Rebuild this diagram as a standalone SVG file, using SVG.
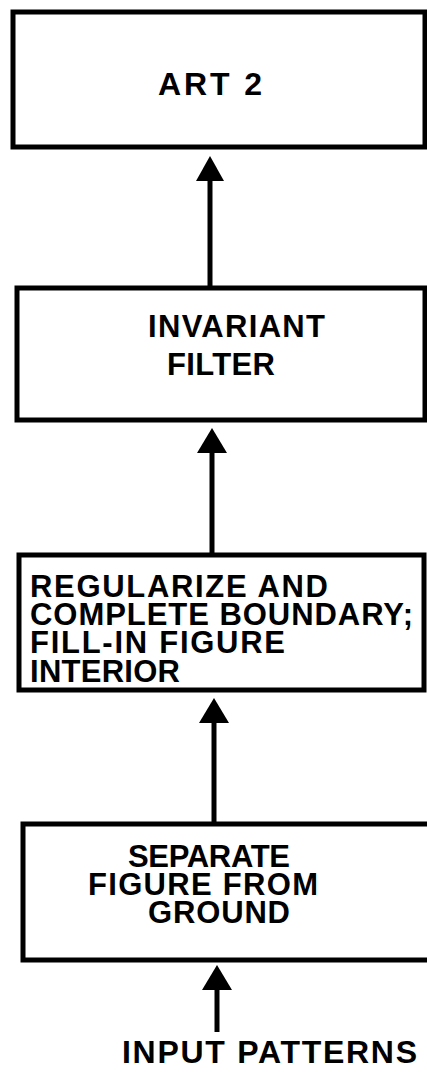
<svg xmlns="http://www.w3.org/2000/svg" width="427" height="1072" viewBox="0 0 427 1072">
  <defs>
    <style>
      .box { fill: #ffffff; stroke: #000000; stroke-width: 5; }
      .lbl { font-family: "Liberation Sans", Arial, Helvetica, sans-serif; font-weight: bold; font-size: 31px; fill: #000000; }
      .big { font-size: 32px; }
      .edge { stroke: #000000; stroke-width: 5; fill: none; }
      .head { fill: #000000; stroke: none; }
    </style>
  </defs>
  <rect width="427" height="1072" fill="#ffffff"/>

  <g id="art2">
    <rect class="box" x="13" y="12" width="412" height="135"/>
    <text class="lbl big" x="158" y="95" textLength="104" lengthAdjust="spacing">ART 2</text>
  </g>

  <g id="invariant-filter">
    <rect class="box" x="17" y="288" width="408" height="132"/>
    <text class="lbl"><tspan x="148" y="337" textLength="177" lengthAdjust="spacing">INVARIANT</tspan><tspan x="167" y="375" textLength="108" lengthAdjust="spacing">FILTER</tspan></text>
  </g>

  <g id="regularize">
    <rect class="box" x="19" y="555" width="405" height="135"/>
    <text class="lbl"><tspan x="30" y="597" textLength="298" lengthAdjust="spacing">REGULARIZE  AND</tspan><tspan x="30" y="625" textLength="383" lengthAdjust="spacing">COMPLETE  BOUNDARY;</tspan><tspan x="30" y="653" textLength="255" lengthAdjust="spacing">FILL-IN  FIGURE</tspan><tspan x="30" y="682" textLength="150" lengthAdjust="spacing">INTERIOR</tspan></text>
  </g>

  <g id="separate">
    <rect class="box" x="23" y="824" width="420" height="136"/>
    <text class="lbl"><tspan x="128" y="867" textLength="162" lengthAdjust="spacing">SEPARATE</tspan><tspan x="88" y="895" textLength="230" lengthAdjust="spacing">FIGURE  FROM</tspan><tspan x="148" y="923" textLength="142" lengthAdjust="spacing">GROUND</tspan></text>
  </g>

  <g id="input-patterns">
    <text class="lbl big" x="122" y="1063" textLength="295" lengthAdjust="spacing">INPUT  PATTERNS</text>
  </g>

  <g id="connectors">
    <line class="edge" x1="210" y1="287" x2="210" y2="178"/>
    <polygon class="head" points="210,156 196,181 224,181"/>
    <line class="edge" x1="212" y1="555" x2="212" y2="450"/>
    <polygon class="head" points="212,428 197,453 227,453"/>
    <line class="edge" x1="214" y1="824" x2="214" y2="720"/>
    <polygon class="head" points="214,698 199,723 229,723"/>
    <line class="edge" x1="217" y1="1032" x2="217" y2="988"/>
    <polygon class="head" points="217,965 202,990 232,990"/>
  </g>
</svg>
